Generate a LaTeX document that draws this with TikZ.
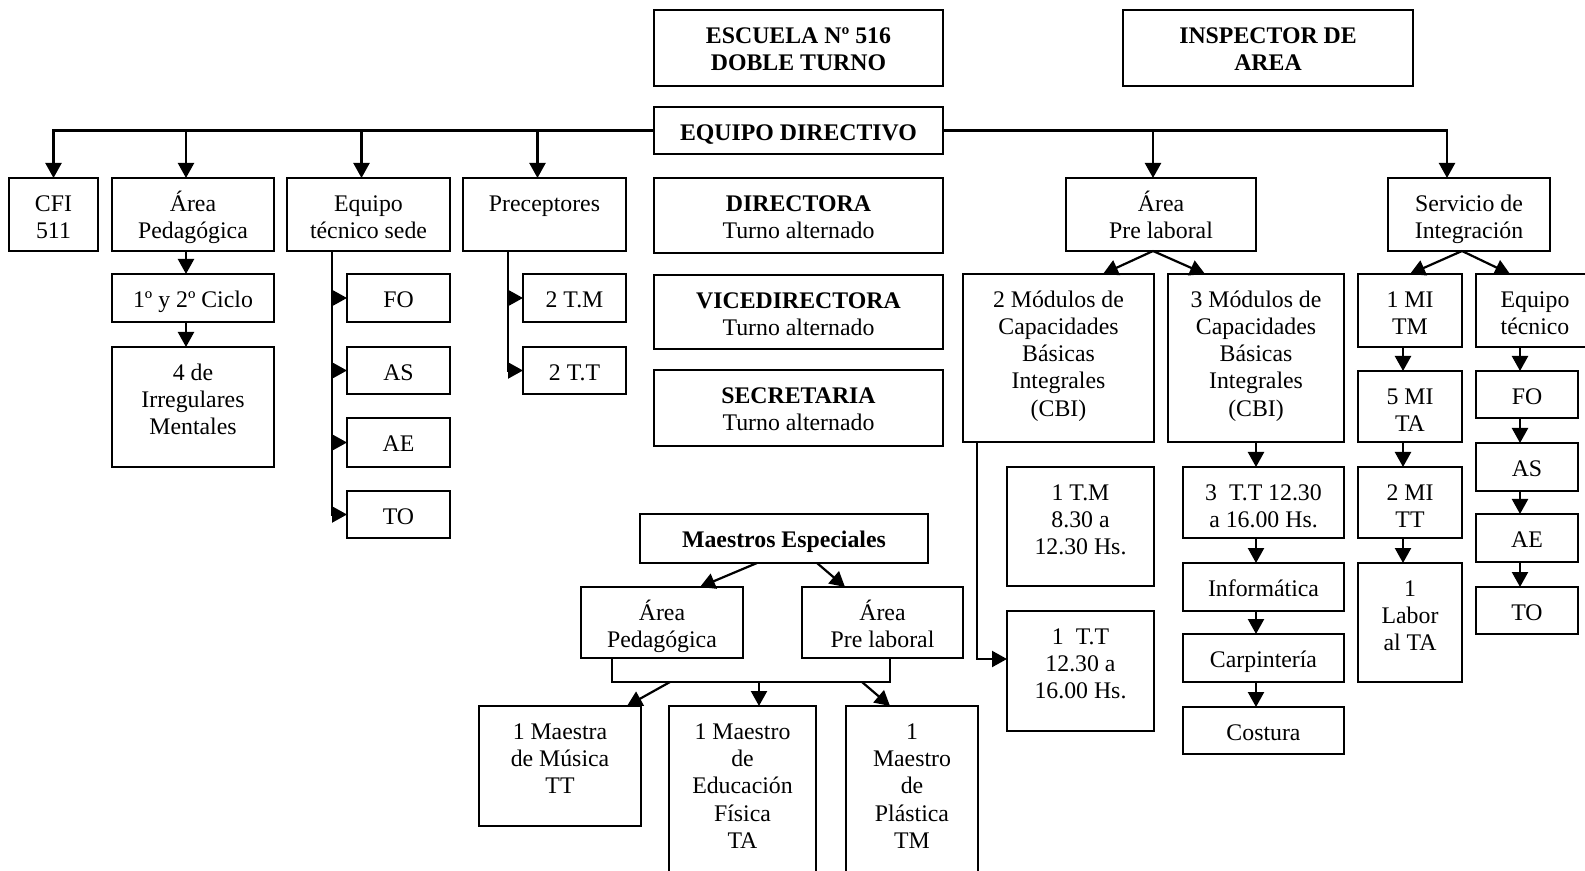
\documentclass[tikz,border=0pt]{standalone}
\usepackage{fontspec}
\setmainfont{Liberation Serif}
\usetikzlibrary{arrows.meta}
\tikzset{
	box/.style={draw, line width=0.9pt, anchor=north west, inner sep=0pt, outer sep=0pt},
	boxtext/.style={anchor=north, inner sep=0pt, align=center, font=\fontsize{11.9}{13.6}\selectfont},
	line/.style={line width=1.1pt},
	arr/.style={line width=1.1pt, -{Triangle[length=7.5pt,width=8pt]}},
}
% name, x1, y1, x2, y2, text
\newcommand{\orgbox}[6]{%
	\node[box, minimum width={(#4-#2)*0.5pt}, minimum height={(#5-#3)*0.5pt}] at (#2,#3) (#1) {};
	\node[boxtext] at ([yshift=-5.5pt]#1.north) (#1-t) {\rule{0pt}{11pt}#6};
}
\begin{document}
\begin{tikzpicture}[x=0.5pt,y=-0.5pt]
	\useasboundingbox (0,0) rectangle (1585,871);
	\clip (0,0) rectangle (1585,871);
	% direccion
	\orgbox{esc}{654}{10}{943}{86}{\textbf{ESCUELA Nº 516}\\\textbf{DOBLE TURNO}}
	\orgbox{insp}{1123}{10}{1413}{86}{\textbf{INSPECTOR DE}\\\textbf{AREA}}
	\orgbox{ed}{654}{107}{943}{154}{\textbf{EQUIPO DIRECTIVO}}
	\orgbox{dir}{654}{178}{943}{253}{\textbf{DIRECTORA}\\Turno alternado}
	\orgbox{vice}{654}{275}{943}{349}{\textbf{VICEDIRECTORA}\\Turno alternado}
	\orgbox{sec}{654}{370}{943}{446}{\textbf{SECRETARIA}\\Turno alternado}
	% primera fila
	\orgbox{cfi}{9}{178}{98}{251}{CFI\\511}
	\orgbox{ap}{112}{178}{274}{251}{Área\\Pedagógica}
	\orgbox{ets}{287}{178}{450}{251}{Equipo\\técnico sede}
	\orgbox{prec}{463}{178}{626}{251}{Preceptores}
	\orgbox{apl}{1066}{178}{1256}{251}{Área\\Pre laboral}
	\orgbox{si}{1388}{178}{1550}{251}{Servicio de\\Integración}
	%
	\orgbox{ciclo}{112}{274}{274}{322}{1º y 2º Ciclo}
	\orgbox{irr}{112}{347}{274}{467}{4 de\\Irregulares\\Mentales}
	\orgbox{sfo}{347}{274}{450}{322}{FO}
	\orgbox{sas}{347}{347}{450}{394}{AS}
	\orgbox{sae}{347}{418}{450}{467}{AE}
	\orgbox{sto}{347}{491}{450}{538}{TO}
	\orgbox{ptm}{523}{274}{626}{322}{2 T.M}
	\orgbox{ptt}{523}{347}{626}{394}{2 T.T}
	% pre laboral
	\orgbox{mod2}{963}{274}{1154}{442}{2 Módulos de\\Capacidades\\Básicas\\Integrales\\(CBI)}
	\orgbox{mod3}{1168}{274}{1344}{442}{3 Módulos de\\Capacidades\\Básicas\\Integrales\\(CBI)}
	\orgbox{tm1}{1007}{467}{1154}{586}{1 T.M\\8.30 a\\12.30 Hs.}
	\orgbox{tt1}{1007}{611}{1154}{731}{1~ T.T\\12.30 a\\16.00 Hs.}
	\orgbox{tt3}{1183}{467}{1344}{538}{3~ T.T 12.30\\a 16.00 Hs.}
	\orgbox{inf}{1183}{563}{1344}{611}{Informática}
	\orgbox{carp}{1183}{634}{1344}{682}{Carpintería}
	\orgbox{cos}{1183}{707}{1344}{754}{Costura}
	% integracion
	\orgbox{mi1}{1358}{274}{1462}{347}{1 MI\\TM}
	\orgbox{mi5}{1358}{371}{1462}{442}{5 MI\\TA}
	\orgbox{mi2}{1358}{467}{1462}{538}{2 MI\\TT}
	\orgbox{lab}{1358}{563}{1462}{682}{1\\Labor\\al TA}
	\orgbox{eqt}{1476}{274}{1594}{347}{Equipo\\técnico}
	\orgbox{ifo}{1476}{371}{1578}{418}{FO}
	\orgbox{ias}{1476}{443}{1578}{491}{AS}
	\orgbox{iae}{1476}{514}{1578}{562}{AE}
	\orgbox{ito}{1476}{587}{1578}{634}{TO}
	% maestros especiales
	\orgbox{me}{640}{514}{928}{563}{\textbf{Maestros Especiales}}
	\orgbox{ap2}{581}{587}{743}{658}{Área\\Pedagógica}
	\orgbox{apl2}{802}{587}{963}{658}{Área\\Pre laboral}
	\orgbox{mus}{479}{706}{641}{826}{1 Maestra\\de Música\\TT}
	\orgbox{ef}{669}{706}{816}{890}{1 Maestro\\de\\Educación\\Física\\TA}
	\orgbox{pla}{846}{706}{978}{890}{1\\Maestro\\de\\Plástica\\TM}
	%
	\draw[arr] (ed.west) -| (cfi.north);
	\foreach \n in {ap,ets,prec}
		\draw[arr] ([xshift=-3.5pt]\n.north |- ed.west) -- ([xshift=-3.5pt]\n.north);
	\draw[arr] (ed.east) -| ([xshift=-11pt]si.north);
	\draw[arr] ([xshift=-4pt]apl.north |- ed.east) -- ([xshift=-4pt]apl.north);
	%
	\draw[arr] ([xshift=-3.5pt]ap.south) -- ([xshift=-3.5pt]ciclo.north);
	\draw[arr] ([xshift=-3.5pt]ciclo.south) -- ([xshift=-3.5pt]irr.north);
	\coordinate (etsx) at ([xshift=22.5pt]ets.south west);
	\draw[arr] (etsx) |- (sto.west);
	\foreach \n in {sfo,sas,sae}
		\draw[arr] (etsx |- \n.west) -- (\n.west);
	\coordinate (precx) at ([xshift=22.5pt]prec.south west);
	\draw[arr] (precx) |- (ptt.west);
	\draw[arr] (precx |- ptm.west) -- (ptm.west);
	%
	\coordinate (aplx) at ([xshift=-4pt]apl.south);
	\draw[arr] (aplx) -- ([xshift=22.25pt]mod2.north);
	\draw[arr] (aplx) -- ([xshift=-25.5pt]mod3.north);
	\draw[arr] ([xshift=7pt]mod2.south west) |- ([yshift=6pt]tt1.west);
	\draw[arr] (mod3.south) -- (mod3.south |- tt3.north);
	\draw[arr] (mod3.south |- tt3.south) -- (mod3.south |- inf.north);
	\draw[arr] (mod3.south |- inf.south) -- (mod3.south |- carp.north);
	\draw[arr] (mod3.south |- carp.south) -- (mod3.south |- cos.north);
	%
	\coordinate (six) at ([xshift=-3.5pt]si.south);
	\draw[arr] (six) -- (mi1.north);
	\draw[arr] (six) -- ([xshift=17pt]eqt.north west);
	\coordinate (mix) at ([xshift=-3.5pt]mi1.south);
	\draw[arr] (mix) -- (mix |- mi5.north);
	\draw[arr] (mix |- mi5.south) -- (mix |- mi2.north);
	\draw[arr] (mix |- mi2.south) -- (mix |- lab.north);
	\coordinate (eqx) at ([xshift=22pt]eqt.south west);
	\draw[arr] (eqx) -- (eqx |- ifo.north);
	\draw[arr] (eqx |- ifo.south) -- (eqx |- ias.north);
	\draw[arr] (eqx |- ias.south) -- (eqx |- iae.north);
	\draw[arr] (eqx |- iae.south) -- (eqx |- ito.north);
	%
	\draw[arr] ([xshift=-13.5pt]me.south) -- ([xshift=19pt]ap2.north);
	\draw[arr] ([xshift=16.5pt]me.south) -- ([xshift=-18.75pt]apl2.north);
	\draw[line] ([xshift=15.5pt]ap2.south west) -- ++(0,24) -| ([xshift=3.75pt]apl2.south);
	\coordinate (bl) at (670,682);
	\coordinate (bm) at (759,682);
	\coordinate (br) at (862,682);
	\draw[arr] (bl) -- ([xshift=33.5pt]mus.north);
	\draw[arr] (bm) -- ([xshift=8.25pt]ef.north);
	\draw[arr] (br) -- ([xshift=-11pt]pla.north);
\end{tikzpicture}
\end{document}
